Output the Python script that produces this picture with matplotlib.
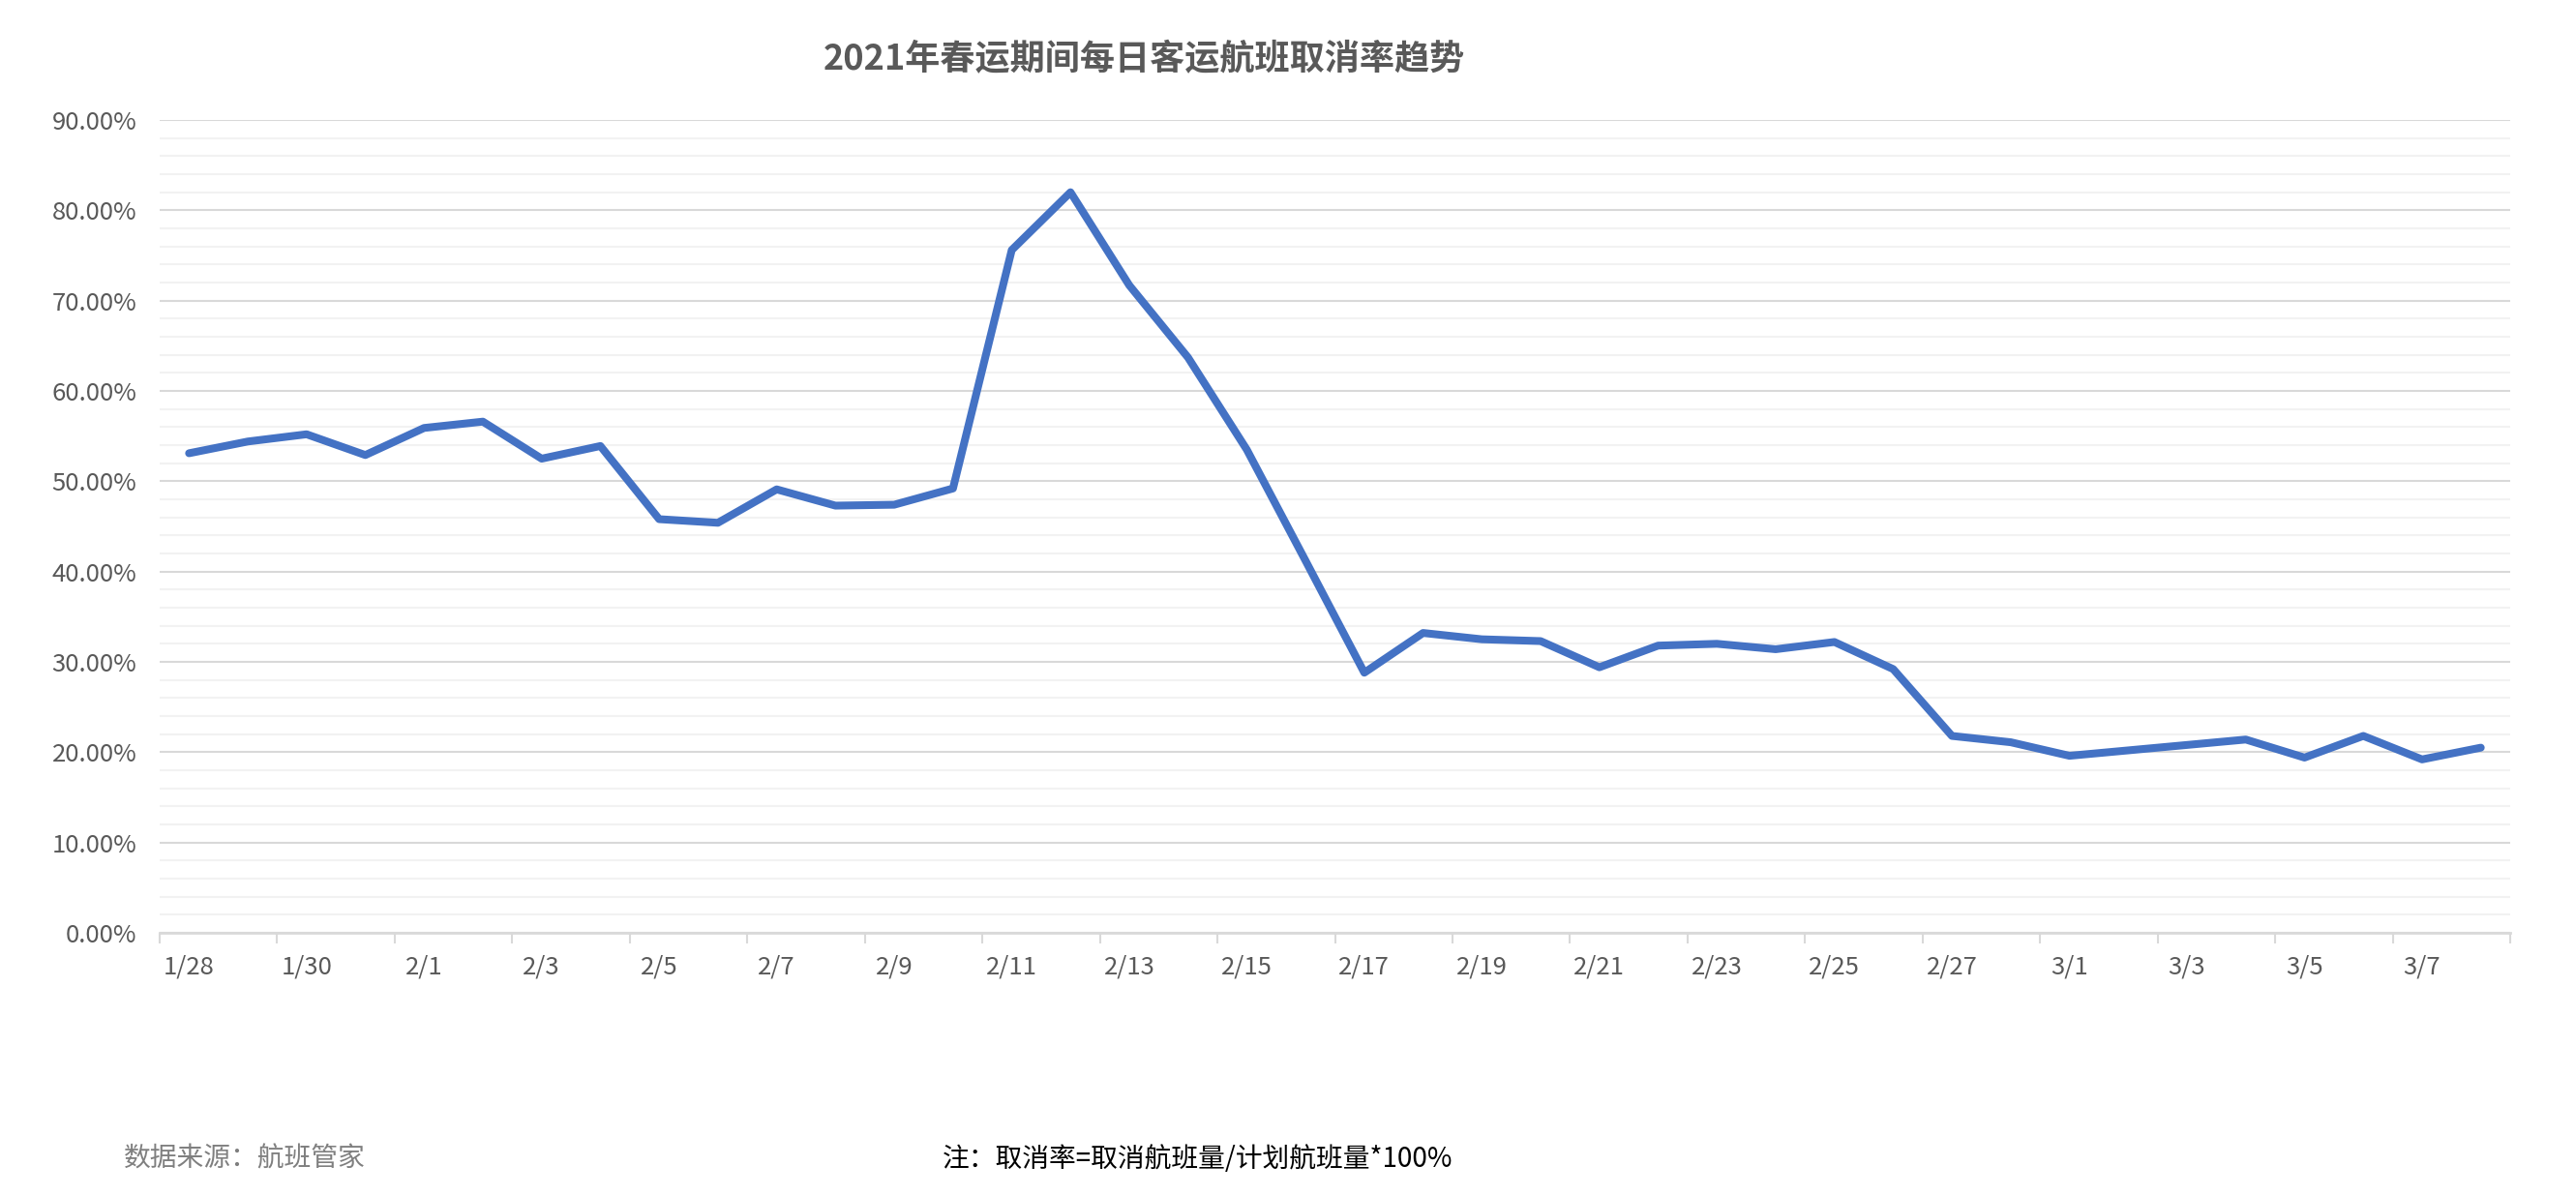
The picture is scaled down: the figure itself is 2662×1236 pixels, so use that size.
import matplotlib
matplotlib.use("Agg")
import matplotlib.pyplot as plt
from matplotlib.ticker import FixedLocator, PercentFormatter

plt.rcParams['font.family'] = ['Noto Sans CJK SC', 'DejaVu Sans']

dates = ["1/28", "1/29", "1/30", "1/31",
         "2/1", "2/2", "2/3", "2/4", "2/5", "2/6", "2/7", "2/8", "2/9", "2/10",
         "2/11", "2/12", "2/13", "2/14", "2/15", "2/16", "2/17", "2/18", "2/19",
         "2/20", "2/21", "2/22", "2/23", "2/24", "2/25", "2/26", "2/27", "2/28",
         "3/1", "3/2", "3/3", "3/4", "3/5", "3/6", "3/7", "3/8"]
cancel_rate = [53.1, 54.4, 55.2, 52.9, 55.9, 56.6, 52.5, 53.9, 45.8, 45.4,
               49.1, 47.3, 47.4, 49.2, 75.6, 82.0, 71.7, 63.7, 53.5, 41.2,
               28.8, 33.2, 32.5, 32.3, 29.4, 31.8, 32.0, 31.4, 32.2, 29.2,
               21.8, 21.1, 19.6, 20.2, 20.8, 21.4, 19.4, 21.8, 19.2, 20.5]
title = "2021年春运期间每日客运航班取消率趋势"
source = "数据来源：航班管家"
note = "注：取消率=取消航班量/计划航班量*100%"

W, H, DPI = 2662, 1236, 100
fig = plt.figure(figsize=(W / DPI, H / DPI), dpi=DPI)
ax = fig.add_axes([165 / W, 1 - 964 / H, (2594 - 165) / W, (964 - 124) / H])

x = list(range(len(dates)))
y = [v / 100 for v in cancel_rate]
ax.plot(x, y, color="#4472C4", lw=5.8, solid_capstyle="round",
        solid_joinstyle="round", zorder=3)

ax.set_xlim(-0.5, len(dates) - 0.5)
ax.set_ylim(0, 0.9)

# y gridlines
ax.yaxis.set_major_locator(FixedLocator([i / 10 for i in range(10)]))
ax.yaxis.set_minor_locator(FixedLocator([i / 50 for i in range(46) if i % 5]))
ax.yaxis.set_major_formatter(PercentFormatter(1.0, decimals=2))
ax.grid(axis="y", which="major", color="#d9d9d9", lw=1.5, zorder=1)
ax.grid(axis="y", which="minor", color="#f2f2f2", lw=1.5, zorder=1)
ax.tick_params(axis="y", which="both", length=0, labelsize=18.5,
               labelcolor="#595959", pad=17)

# x axis: labels on every other category, tick marks at boundaries
ax.set_xticks(x[::2])
ax.set_xticklabels(dates[::2])
ax.set_xticks([i - 0.5 for i in range(0, len(dates) + 1, 2)], minor=True)
ax.tick_params(axis="x", which="major", length=0, labelsize=18.5,
               labelcolor="#595959", pad=16)
ax.tick_params(axis="x", which="minor", length=8, width=1.5,
               color="#d9d9d9", direction="out")

for s in ["top", "right", "left"]:
    ax.spines[s].set_visible(False)
ax.spines["bottom"].set_color("#d9d9d9")
ax.spines["bottom"].set_linewidth(2)
ax.spines["bottom"].set_zorder(2)

fig.text(1182 / W, 1 - 62 / H, title, ha="center", va="center",
         fontsize=26, fontweight="bold", color="#595959")
fig.text(128 / W, 1 - 1198 / H, source, ha="left", va="center",
         fontsize=20, color="#7f7f7f")
fig.text(974 / W, 1 - 1198 / H, note, ha="left", va="center",
         fontsize=20, color="#000000")

fig.savefig("out.png", dpi=DPI, facecolor="white")
